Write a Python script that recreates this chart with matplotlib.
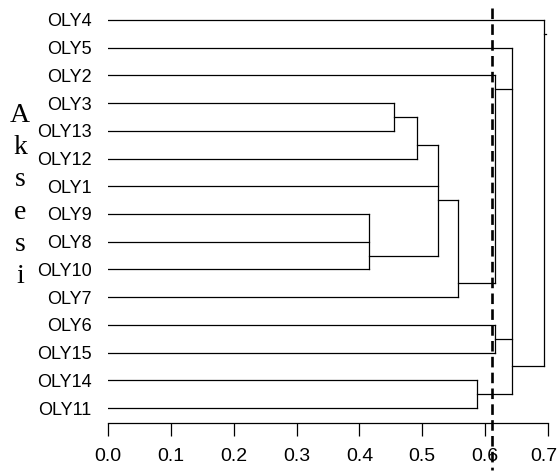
import matplotlib
matplotlib.use('Agg')
import matplotlib.pyplot as plt
from matplotlib.transforms import ScaledTranslation

# ---- data ----
leaves = ['OLY4', 'OLY5', 'OLY2', 'OLY3', 'OLY13', 'OLY12', 'OLY1', 'OLY9',
          'OLY8', 'OLY10', 'OLY7', 'OLY6', 'OLY15', 'OLY14', 'OLY11']
# cluster name, members (top to bottom), joining height
merge_names = ['A', 'B', 'C', 'D', 'E', 'F', 'G', 'H', 'I', 'ROOT']
merge_members = [['OLY3', 'OLY13'],
                 ['A', 'OLY12'],
                 ['OLY9', 'OLY8', 'OLY10'],
                 ['B', 'OLY1', 'C'],
                 ['D', 'OLY7'],
                 ['OLY2', 'E'],
                 ['OLY6', 'OLY15'],
                 ['OLY14', 'OLY11'],
                 ['OLY5', 'F', 'G', 'H'],
                 ['OLY4', 'I']]
merge_heights = [0.455, 0.491, 0.415, 0.525, 0.557, 0.616, 0.616, 0.587, 0.643, 0.694]
cut_height = 0.612
x_ticks = [0.0, 0.1, 0.2, 0.3, 0.4, 0.5, 0.6, 0.7]
x_tick_labels = ['0.0', '0.1', '0.2', '0.3', '0.4', '0.5', '0.6', '0.7']
y_title = 'Aksesi'

# ---- figure ----
W, H = 559, 472
fig = plt.figure(figsize=(W / 100, H / 100), dpi=100)
ax = fig.add_axes([108.3 / W, 1 - 423 / H, 439.4 / W, 418 / H])
ax.set_xlim(0, 0.7)
ax.set_ylim(14.54, -0.54)

lw = 0.9
col = 'black'
anchor = {name: float(i) for i, name in enumerate(leaves)}
first = {name: i for i, name in enumerate(leaves)}
height = {name: 0.0 for name in leaves}

for name, kids, h in zip(merge_names, merge_members, merge_heights):
    for k in kids:
        ax.plot([height[k], h], [anchor[k], anchor[k]], color=col, lw=lw,
                solid_capstyle='projecting')
    ys = [anchor[k] for k in kids]
    ax.plot([h, h], [min(ys), max(ys)], color=col, lw=lw, solid_capstyle='projecting')
    anchor[name] = first[kids[-1]] - 0.5
    first[name] = first[kids[0]]
    height[name] = h

# root stub
root = merge_names[-1]
ax.plot([height[root], height[root] + 0.004], [anchor[root], anchor[root]],
        color=col, lw=lw)

# cut line
ax.plot([cut_height, cut_height], [-0.43, 16.24], color='black', lw=1.9,
        ls=(0, (4, 2)), clip_on=False, zorder=5)

for s in ['top', 'right', 'left']:
    ax.spines[s].set_visible(False)
ax.spines['bottom'].set_linewidth(lw)

ax.set_xticks(x_ticks)
ax.set_xticklabels(x_tick_labels, fontsize=14, family='Liberation Sans')
ax.tick_params(axis='x', length=9, width=lw, pad=9)
last = ax.get_xticklabels()[-1]
last.set_transform(last.get_transform() + ScaledTranslation(-4 / 100, 0, fig.dpi_scale_trans))

ax.set_yticks(range(len(leaves)))
ax.set_yticklabels(leaves, fontsize=13, family='Liberation Sans')
ax.tick_params(axis='y', length=0, pad=12)

fig.text(20 / W, 1 - 196 / H, '\n'.join(list(y_title)), ha='center', va='center',
         fontsize=20, family='Liberation Serif', linespacing=1.37)

fig.savefig('out.png', dpi=100)
